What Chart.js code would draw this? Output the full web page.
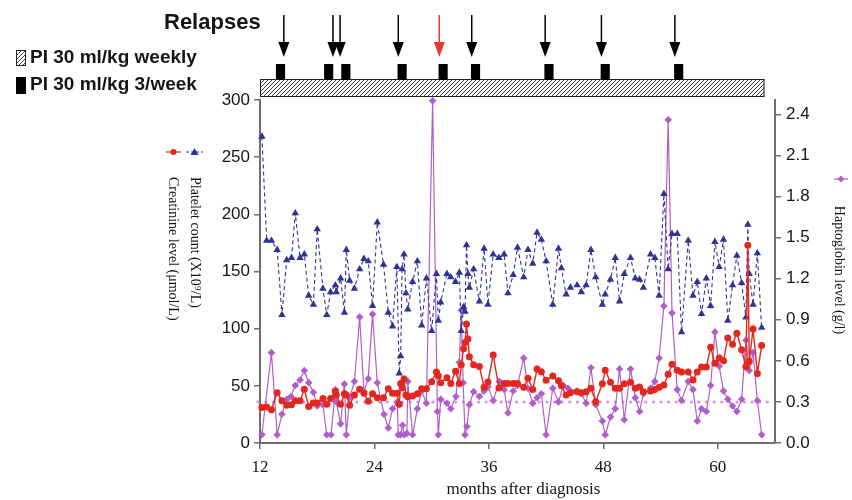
<!DOCTYPE html>
<html>
<head>
<meta charset="utf-8">
<script src="https://cdn.jsdelivr.net/npm/chart.js@4.4.1/dist/chart.umd.min.js"></script>
<style>
  html, body { margin: 0; padding: 0; background: #fff; }
  #wrap { width: 852px; height: 500px; }
</style>
</head>
<body>
<div id="wrap"><canvas id="labChart" width="852" height="500"></canvas></div>
<script>
// ===========================
// Data (months after diagnosis)
// ===========================
const labMonths = [12.2, 12.7, 13.2, 13.8, 14.3, 14.8, 15.3, 15.7, 16.2, 16.65,
    17.1, 17.6, 18.0, 18.6, 19.0, 19.4, 19.9, 20.0, 20.45, 20.85,
    21.05, 21.4, 21.9, 22.45, 22.9, 23.35, 23.8, 24.3, 24.95, 25.45,
    25.9, 26.35, 26.6, 26.75, 26.9, 27.1, 27.3, 27.5, 28.0, 28.5,
    28.95, 29.45, 30.0, 30.5, 30.7, 30.95, 31.6, 32.0, 32.5, 32.9,
    33.1, 33.35, 33.5, 33.65, 33.8, 33.95, 34.4, 35.0, 35.5, 35.9,
    36.45, 37.05, 37.6, 38.0, 38.55, 39.0, 39.65, 40.1, 40.6, 41.05,
    41.5, 42.0, 42.7, 43.3, 43.6, 44.1, 44.55, 45.25, 45.7, 46.2,
    46.7, 47.2, 47.9, 48.2, 48.75, 49.25, 49.7, 50.2, 50.85, 51.35,
    51.8, 52.2, 52.95, 53.4, 53.85, 54.35, 54.8, 55.2, 55.75, 56.2,
    56.9, 57.4, 57.85, 58.3, 58.8, 59.25, 59.7, 60.15, 60.6, 61.05,
    61.55, 62.0, 62.5, 62.95, 63.15, 63.3, 63.7, 64.15, 64.6];

const platelet = [268, 177, 177, 169, 112, 160, 162, 201, 162, 165,
    129, 121, 187, 135, 112, 132, 138, 132, 144, 114,
    169, 142, 135, 152, 161, 159, 120, 193, 156, 114,
    102, 154, 61, 76, 152, 165, 131, 117, 141, 159,
    103, 144, 98, 148, 107, 123, 148, 145, 141, 149,
    98, 119, 115, 173, 148, 136, 152, 124, 170, 121,
    165, 162, 165, 131, 147, 171, 145, 169, 157, 184,
    178, 159, 121, 170, 153, 130, 136, 138, 132, 138,
    169, 145, 121, 130, 143, 162, 124, 148, 162, 144,
    143, 136, 165, 162, 129, 218, 152, 183, 183, 97,
    177, 129, 141, 113, 144, 120, 176, 154, 178, 107,
    138, 164, 140, 110, 191, 148, 121, 166, 101];

const creatinine = [31, 31.5, 29, 44, 37, 33, 33.5, 37, 37, 47,
    32, 35, 35, 39, 34, 39, 45, 42, 34, 43,
    42, 33, 42, 47, 43.5, 36.5, 43, 39.5, 39.5, 47.5,
    43.5, 43.5, 34, 52, 48, 56, 42, 40.5, 41, 43,
    47.5, 47.5, 53.6, 62, 58.6, 52.8, 57, 52, 62.7, 52,
    68.5, 82.5, 88, 104, 91, 75.5, 68.5, 67, 48.7, 53.4,
    77, 48, 52, 52, 52, 52, 48.7, 56.6, 46.7, 64.7,
    62.4, 54.8, 58.6, 54.5, 50.1, 42, 44, 44.9, 44, 44.9,
    47.8, 36.1, 51.9, 63.6, 53.1, 47.8, 47.8, 51.9, 53.1, 47.8,
    49, 44.9, 45.5, 46.7, 48.7, 50.7, 60.1, 68.8, 63.6, 62.1,
    62.1, 55.1, 62.1, 66.5, 66.5, 83.7, 69.7, 74.4, 72, 91.9,
    86.3, 96, 81.6, 66.8, 173, 71.2, 99.7, 60.7, 85.2];

const haptoMonths = [12.2, 13.2, 13.8, 14.3, 14.8, 15.25, 15.7, 16.2, 16.65, 17.1,
    17.6, 18.0, 18.6, 19.0, 19.45, 19.9, 20.0, 20.45, 20.85, 21.05,
    21.4, 21.9, 22.45, 22.9, 23.35, 23.8, 24.3, 25.0, 25.45, 25.9,
    26.4, 26.5, 26.75, 26.95, 27.1, 27.4, 27.5, 28.0, 28.5, 28.95,
    29.45, 30.1, 30.6, 30.7, 30.95, 31.6, 32.0, 32.55, 32.9, 33.1,
    33.3, 33.5, 33.7, 33.95, 34.4, 35.0, 35.5, 35.9, 36.45, 37.1,
    37.6, 38.0, 38.55, 39.0, 39.65, 40.1, 40.6, 41.05, 41.5, 42.0,
    42.7, 43.3, 43.8, 44.3, 45.25, 45.7, 46.2, 46.7, 47.2, 47.9,
    48.2, 48.75, 49.25, 49.7, 50.2, 50.85, 51.35, 51.8, 52.2, 52.95,
    53.4, 53.85, 54.35, 54.8, 55.2, 55.75, 56.2, 56.9, 57.4, 57.85,
    58.3, 58.8, 59.25, 59.7, 60.15, 60.6, 61.05, 61.55, 62.0, 62.5,
    62.95, 63.3, 63.7, 64.15, 64.6];

const haptoglobin = [0.06, 0.66, 0.06, 0.21, 0.32, 0.34, 0.42, 0.46, 0.53, 0.44,
    0.37, 0.27, 0.28, 0.06, 0.06, 0.39, 0.30, 0.14, 0.43, 0.06,
    0.33, 0.45, 0.92, 0.375, 0.47, 0.94, 0.44, 0.21, 0.11, 0.25,
    0.30, 0.06, 0.06, 0.13, 0.06, 0.07, 0.45, 0.06, 0.25, 0.38,
    0.29, 2.5, 0.23, 0.06, 0.32, 0.29, 0.25, 0.34, 0.59, 0.97,
    0.44, 0.06, 0.12, 0.28, 0.375, 0.34, 0.38, 0.41, 0.31, 0.45,
    0.39, 0.22, 0.38, 0.42, 0.62, 0.40, 0.29, 0.33, 0.36, 0.06,
    0.40, 0.30, 0.42, 0.40, 0.38, 0.36, 0.29, 0.55, 0.28, 0.16,
    0.06, 0.19, 0.25, 0.54, 0.17, 0.54, 0.33, 0.23, 0.36, 0.40,
    0.45, 0.62, 1.00, 2.36, 0.95, 0.39, 0.31, 0.45, 0.39, 0.16,
    0.25, 0.23, 0.42, 0.81, 0.56, 0.38, 0.32, 0.27, 0.23, 0.32,
    0.75, 0.53, 0.66, 0.31, 0.06];

// haptoglobin lower reference limit (dotted line)
const haptoRefLevel = 0.3;
const haptoRefSpan = [11.8, 65.6];

// treatment timeline
const weeklyPeriod = [12, 64.9];
const threePerWeekMonths = [14.15, 19.2, 21.0, 26.9, 31.2, 34.6, 42.3, 48.2, 55.9];
const relapseMonths = [14.5, 19.65, 20.4, 26.5, 30.8, 34.2, 41.9, 47.8, 55.5];
const relapseHighlight = [false, false, false, false, true, false, false, false, false];

// tick labels
const xTicks = [12, 24, 36, 48, 60];
const leftTicks = [0, 50, 100, 150, 200, 250, 300];
const rightTicks = [0, 0.3, 0.6, 0.9, 1.2, 1.5, 1.8, 2.1, 2.4];

// ===========================
// Styles
// ===========================
const SANS = '"Liberation Sans", Arial, Helvetica, sans-serif';
const SERIF = '"Liberation Serif", "Times New Roman", serif';
const AXIS_GREY = '#6e6e6e';
const TEXT = '#151515';
const RED = '#e3271f';
const BLUE = '#2f3394';
const PURPLE = '#b15dcb';
const PURPLE_DOT = '#cf93e0';

const toPoints = (xs, ys) => xs.map((m, i) => ({ x: m, y: ys[i] }));

function hatchPattern(ctx) {
    const c = document.createElement('canvas');
    c.width = 4; c.height = 4;
    const g = c.getContext('2d');
    g.fillStyle = '#fff';
    g.fillRect(0, 0, 4, 4);
    g.strokeStyle = '#2a2a2a';
    g.lineWidth = 0.9;
    g.beginPath();
    g.moveTo(0, 4); g.lineTo(4, 0);
    g.moveTo(-1, 1); g.lineTo(1, -1);
    g.moveTo(3, 5); g.lineTo(5, 3);
    g.stroke();
    return ctx.createPattern(c, 'repeat');
}

// ===========================
// Timeline, legend keys and axis titles
// ===========================
const decorPlugin = {
    id: 'decor',
    afterDraw(chart) {
        const ctx = chart.ctx;
        const x = chart.scales.x;
        const area = chart.chartArea;
        const top = area.top;
        const hatch = hatchPattern(ctx);
        ctx.save();

        // weekly plasma infusion bar
        const x0 = x.getPixelForValue(weeklyPeriod[0]);
        const x1 = x.getPixelForValue(weeklyPeriod[1]);
        ctx.fillStyle = hatch;
        ctx.fillRect(x0, top - 21, x1 - x0, 18);
        ctx.strokeStyle = '#222';
        ctx.lineWidth = 1;
        ctx.strokeRect(x0 + 0.5, top - 20.5, x1 - x0 - 1, 17);

        // 3/week blocks
        ctx.fillStyle = '#000';
        threePerWeekMonths.forEach(m => {
            const a = x.getPixelForValue(m - 0.48);
            const b = x.getPixelForValue(m + 0.48);
            ctx.fillRect(a, top - 36, b - a, 16);
        });

        // relapse arrows
        relapseMonths.forEach((m, i) => {
            const px = x.getPixelForValue(m);
            const col = relapseHighlight[i] ? '#e23a2e' : '#000';
            ctx.strokeStyle = col;
            ctx.fillStyle = col;
            ctx.lineWidth = 1.5;
            ctx.beginPath();
            ctx.moveTo(px, top - 85);
            ctx.lineTo(px, top - 52);
            ctx.stroke();
            ctx.beginPath();
            ctx.moveTo(px - 5.5, top - 58);
            ctx.lineTo(px + 5.5, top - 58);
            ctx.lineTo(px, top - 43);
            ctx.closePath();
            ctx.fill();
        });

        // header texts
        ctx.fillStyle = TEXT;
        ctx.textBaseline = 'middle';
        ctx.textAlign = 'left';
        ctx.font = 'bold 22px ' + SANS;
        ctx.fillText('Relapses', 164, 23);
        ctx.font = 'bold 19px ' + SANS;
        ctx.fillText('PI 30 ml/kg weekly', 30, 58);
        ctx.fillText('PI 30 ml/kg 3/week', 30, 85);

        ctx.fillStyle = hatch;
        ctx.fillRect(16, 50, 10, 16);
        ctx.strokeStyle = '#222';
        ctx.lineWidth = 1;
        ctx.strokeRect(16.5, 50.5, 9, 15);
        ctx.fillStyle = '#000';
        ctx.fillRect(16, 77, 10, 17);

        // x axis title
        ctx.fillStyle = TEXT;
        ctx.textAlign = 'center';
        ctx.font = '17px ' + SERIF;
        ctx.fillText('months after diagnosis', (area.left + area.right) / 2 + 6, 490);

        // left axis keys
        ctx.strokeStyle = RED;
        ctx.lineWidth = 1.2;
        ctx.beginPath(); ctx.moveTo(166, 152); ctx.lineTo(181, 152); ctx.stroke();
        ctx.fillStyle = RED;
        ctx.beginPath(); ctx.arc(173.5, 152, 3, 0, Math.PI * 2); ctx.fill();

        ctx.strokeStyle = BLUE;
        ctx.setLineDash([3, 2]);
        ctx.beginPath(); ctx.moveTo(186, 152); ctx.lineTo(203, 152); ctx.stroke();
        ctx.setLineDash([]);
        ctx.fillStyle = BLUE;
        ctx.beginPath();
        ctx.moveTo(194.5, 148); ctx.lineTo(198.5, 155); ctx.lineTo(190.5, 155);
        ctx.closePath(); ctx.fill();

        // right axis key
        ctx.strokeStyle = PURPLE;
        ctx.beginPath(); ctx.moveTo(834, 179); ctx.lineTo(848, 179); ctx.stroke();
        ctx.fillStyle = PURPLE;
        ctx.beginPath();
        ctx.moveTo(841, 175.5); ctx.lineTo(844.5, 179); ctx.lineTo(841, 182.5); ctx.lineTo(837.5, 179);
        ctx.closePath(); ctx.fill();

        // rotated axis titles (reading top to bottom)
        ctx.fillStyle = TEXT;
        ctx.font = '14px ' + SERIF;
        ctx.textBaseline = 'middle';
        ctx.save();
        ctx.translate(195, 177);
        ctx.rotate(Math.PI / 2);
        ctx.textAlign = 'left';
        ctx.fillText('Platelet count (X10\u2079/L)', 0, 0);
        ctx.restore();

        ctx.save();
        ctx.translate(173, 177);
        ctx.rotate(Math.PI / 2);
        ctx.textAlign = 'left';
        ctx.fillText('Creatinine level (\u03bcmol/L)', 0, 0);
        ctx.restore();

        ctx.save();
        ctx.translate(839, 270);
        ctx.rotate(Math.PI / 2);
        ctx.textAlign = 'center';
        ctx.fillText('Haptoglobin level (g/l)', 0, 0);
        ctx.restore();

        ctx.restore();
    }
};

// ===========================
// Chart
// ===========================
const axisGrid = {
    drawOnChartArea: false,
    drawTicks: true,
    tickLength: 6,
    color: AXIS_GREY,
    lineWidth: 1.5
};
const axisBorder = { display: true, color: AXIS_GREY, width: 2 };

const labCtx = document.getElementById('labChart').getContext('2d');
const labChart = new Chart(labCtx, {
    type: 'line',
    data: {
        datasets: [{
            label: 'Creatinine level',
            data: toPoints(labMonths, creatinine),
            yAxisID: 'y',
            borderColor: RED,
            backgroundColor: RED,
            borderWidth: 1.4,
            pointStyle: 'circle',
            pointRadius: 3.5,
            pointBorderWidth: 0,
            tension: 0,
            clip: false
        }, {
            label: 'Platelet count',
            data: toPoints(labMonths, platelet),
            yAxisID: 'y',
            borderColor: BLUE,
            backgroundColor: BLUE,
            borderWidth: 1.1,
            borderDash: [4, 3],
            pointStyle: 'triangle',
            pointRadius: 4.3,
            pointBorderWidth: 0,
            tension: 0,
            clip: false
        }, {
            label: 'Haptoglobin level',
            data: toPoints(haptoMonths, haptoglobin),
            yAxisID: 'y1',
            borderColor: PURPLE,
            backgroundColor: PURPLE,
            borderWidth: 1.2,
            pointStyle: 'rectRot',
            pointRadius: 3.8,
            pointBorderWidth: 0,
            tension: 0,
            clip: false
        }, {
            label: 'Haptoglobin reference',
            data: haptoRefSpan.map(m => ({ x: m, y: haptoRefLevel })),
            yAxisID: 'y1',
            borderColor: PURPLE_DOT,
            borderWidth: 3,
            borderDash: [0.1, 7.5],
            borderCapStyle: 'round',
            pointRadius: 0,
            clip: false
        }]
    },
    options: {
        responsive: false,
        animation: false,
        devicePixelRatio: 1,
        layout: {
            padding: { top: 100, left: 0, right: 0, bottom: 0 }
        },
        plugins: {
            legend: { display: false },
            tooltip: { enabled: false }
        },
        scales: {
            x: {
                type: 'linear',
                min: 12,
                max: 66,
                afterFit: scale => { scale.height = 57; },
                afterBuildTicks: scale => { scale.ticks = xTicks.map(v => ({ value: v })); },
                grid: axisGrid,
                border: axisBorder,
                ticks: {
                    color: TEXT,
                    padding: 8,
                    maxRotation: 0,
                    font: { family: SERIF, size: 17 }
                }
            },
            y: {
                type: 'linear',
                position: 'left',
                min: 0,
                max: 300,
                afterFit: scale => { scale.width = 260; },
                afterBuildTicks: scale => { scale.ticks = leftTicks.map(v => ({ value: v })); },
                grid: axisGrid,
                border: axisBorder,
                ticks: {
                    color: TEXT,
                    padding: 4,
                    font: { family: SANS, size: 17 }
                }
            },
            y1: {
                type: 'linear',
                position: 'right',
                min: 0,
                max: 2.505,
                afterFit: scale => { scale.width = 77; },
                afterBuildTicks: scale => { scale.ticks = rightTicks.map(v => ({ value: v })); },
                grid: axisGrid,
                border: axisBorder,
                ticks: {
                    color: TEXT,
                    padding: 5,
                    font: { family: SANS, size: 17 },
                    callback: v => Number(v).toFixed(1)
                }
            }
        }
    },
    plugins: [decorPlugin]
});
</script>
</body>
</html>
